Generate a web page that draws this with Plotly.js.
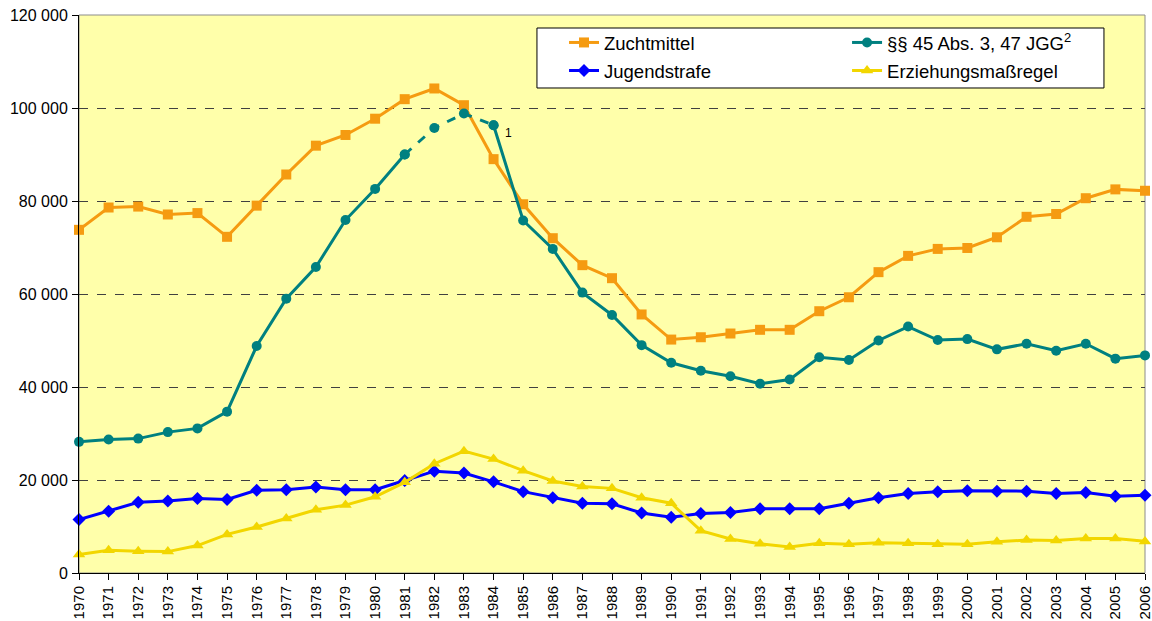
<!DOCTYPE html>
<html>
<head>
<meta charset="utf-8">
<script src="https://cdn.plot.ly/plotly-3.0.1.min.js"></script>
<style>
html,body{margin:0;padding:0;background:#fff;}
#chart{width:1152px;height:621px;}
</style>
</head>
<body>
<div id="chart"></div>
<script>
const years = [1970,1971,1972,1973,1974,1975,1976,1977,1978,1979,1980,1981,1982,1983,1984,1985,1986,1987,1988,1989,1990,1991,1992,1993,1994,1995,1996,1997,1998,1999,2000,2001,2002,2003,2004,2005,2006];
const zuchtmittel = [73800,78600,78800,77100,77400,72300,79000,85700,91900,94200,97700,101900,104200,100600,89000,79300,72000,66200,63400,55600,50200,50700,51500,52300,52300,56300,59300,64700,68200,69700,69900,72200,76600,77200,80600,82500,82200];
const paragraphen = [28200,28700,28900,30300,31100,34700,48800,59000,65800,75900,82600,90000,95700,98800,96300,75800,69700,60300,55500,49000,45200,43500,42300,40700,41600,46400,45800,50000,53000,50100,50300,48100,49300,47800,49300,46100,46800];
const jugendstrafe = [11500,13300,15200,15500,16000,15800,17800,17900,18500,17900,17900,19900,21900,21500,19600,17500,16200,15000,14900,12900,12000,12800,13000,13800,13800,13800,15000,16200,17100,17500,17700,17600,17600,17100,17300,16500,16700];
const erziehung = [4000,4900,4700,4600,5900,8300,9900,11700,13600,14600,16400,19500,23500,26200,24500,22000,19800,18600,18200,16200,15000,9100,7300,6300,5600,6400,6200,6500,6400,6200,6200,6700,7100,7000,7400,7400,6800];
// years of the §§ series drawn with a dashed line (estimated values)
const dashedFrom = 1981, dashedTo = 1984;
const yTickVals = [0,20000,40000,60000,80000,100000,120000];
const yTickText = ['0','20 000','40 000','60 000','80 000','100 000','120 000'];
const names = ['Zuchtmittel','§§ 45 Abs. 3, 47 JGG<sup>2</sup>','Jugendstrafe','Erziehungsmaßregel'];

const cOrange = '#F59B11', cTeal = '#008080', cBlue = '#0000FF', cYellow = '#F2D600';

const solidTeal = paragraphen.map((v,i)=> (years[i] > dashedFrom && years[i] < dashedTo) ? null : v);
const iFrom = years.indexOf(dashedFrom), iTo = years.indexOf(dashedTo);

const traces = [
  {x: years, y: zuchtmittel, name: names[0], type:'scatter', mode:'lines+markers', cliponaxis:false,
   line:{color:cOrange, width:3}, marker:{symbol:'square', size:10, color:cOrange}, legend:'legend', legendgroup:'a'},
  {x: years, y: solidTeal, name: names[1], type:'scatter', mode:'lines+markers', cliponaxis:false, connectgaps:false,
   line:{color:cTeal, width:3}, marker:{symbol:'circle', size:10, color:cTeal}, legend:'legend2', legendgroup:'b'},
  {x: years.slice(iFrom, iTo+1), y: paragraphen.slice(iFrom, iTo+1), name: names[1], type:'scatter', mode:'lines+markers', cliponaxis:false,
   line:{color:cTeal, width:3, dash:'dash'}, marker:{symbol:'circle', size:10, color:cTeal}, showlegend:false, legend:'legend2', legendgroup:'b'},
  {x: years, y: jugendstrafe, name: names[2], type:'scatter', mode:'lines+markers', cliponaxis:false,
   line:{color:cBlue, width:3}, marker:{symbol:'diamond', size:10, color:cBlue}, legend:'legend', legendgroup:'c'},
  {x: years, y: erziehung, name: names[3], type:'scatter', mode:'lines+markers', cliponaxis:false,
   line:{color:cYellow, width:3}, marker:{symbol:'triangle-up', size:11, color:cYellow}, legend:'legend2', legendgroup:'d'}
];

const legendFont = {family:'Liberation Sans, Arial, sans-serif', size:18.5, color:'#000'};
const layout = {
  width:1152, height:621,
  margin:{l:79, r:7, t:15, b:48, pad:0},
  paper_bgcolor:'#FFFFFF', plot_bgcolor:'#FFFFAA',
  font:{family:'Liberation Sans, Arial, sans-serif', size:16, color:'#000'},
  showlegend:true,
  xaxis:{
    range:[1970,2006], tickmode:'array', tickvals: years, ticktext: years.map(String),
    tickangle:-90, ticks:'outside', ticklen:6, tickcolor:'#000', tickwidth:1,
    showline:true, linecolor:'#000', linewidth:1, showgrid:false, zeroline:false,
    tickfont:{size:15}, automargin:false, fixedrange:true, ticklabeloverflow:'allow', ticklabelstandoff:0
  },
  yaxis:{
    range:[0,120000], tickmode:'array', tickvals: yTickVals, ticktext: yTickText,
    ticks:'outside', ticklen:6, tickcolor:'#000', tickwidth:1,
    showline:true, linecolor:'#000', linewidth:1,
    showgrid:true, gridcolor:'#404040', griddash:'dash', gridwidth:1, zeroline:false,
    tickfont:{size:16}, automargin:false, ticklabelstandoff:1, fixedrange:true, ticklabeloverflow:'allow'
  },
  legend:{x:0.455, xanchor:'left', y:0.984, yanchor:'top', bgcolor:'rgba(0,0,0,0)', borderwidth:0,
          font:legendFont, itemwidth:30, tracegroupgap:1, orientation:'v'},
  legend2:{x:0.7205, xanchor:'left', y:0.984, yanchor:'top', bgcolor:'rgba(0,0,0,0)', borderwidth:0,
          font:legendFont, itemwidth:30, tracegroupgap:1, orientation:'v'},
  shapes:[
    {type:'rect', xref:'paper', yref:'paper', x0:0, x1:1, y0:0, y1:1, line:{color:'#8C8C8C', width:1}, fillcolor:'rgba(0,0,0,0)', layer:'below'},
    {type:'rect', xref:'paper', yref:'paper', x0:0.4296, x1:0.9615, y0:0.8692, y1:0.9767, line:{color:'#000', width:1}, fillcolor:'#FFFFFF', layer:'above'}
  ],
  annotations:[
    {x:1984.52, y:94600, xref:'x', yref:'y', text:'1', showarrow:false, font:{size:12, color:'#000'}, xanchor:'center', yanchor:'middle'}
  ]
};

Plotly.newPlot('chart', traces, layout, {displayModeBar:false, staticPlot:true});
</script>
</body>
</html>
